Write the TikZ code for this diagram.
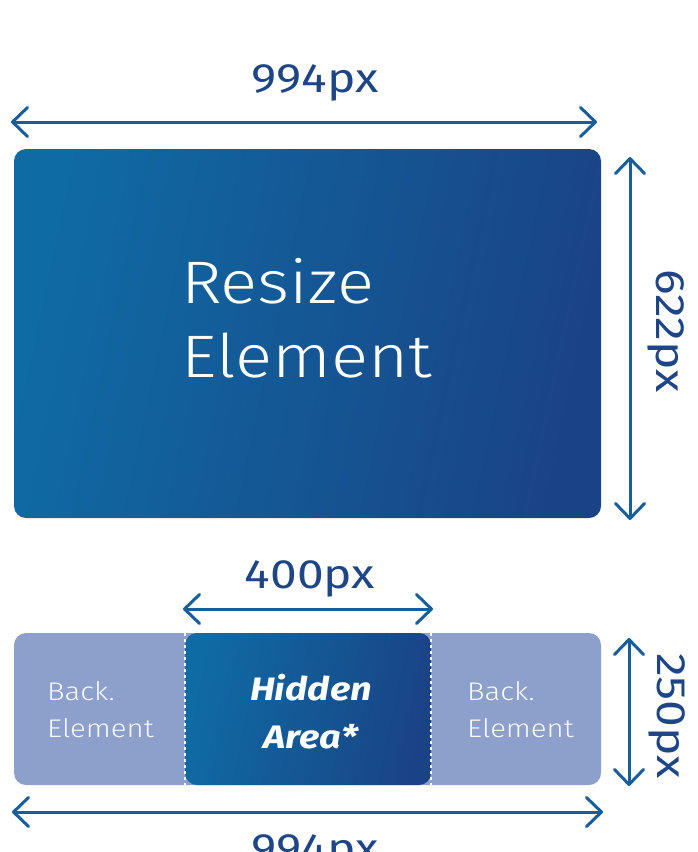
\documentclass[tikz,border=0pt]{standalone}
\usepackage{fontspec}
\setmainfont{Fira Sans}[FakeStretch=1.17]
\newfontfamily\lightfont{Fira Sans Light}[FakeStretch=1.15]
\usetikzlibrary{arrows.meta}
\definecolor{dimblue}{HTML}{175E9B}
\definecolor{txtblue}{HTML}{1E4585}
\definecolor{gradA}{HTML}{0F6BA4}
\definecolor{gradB}{HTML}{1A4385}
\definecolor{barcol}{HTML}{8DA0CB}
\begin{document}
\begin{tikzpicture}[x=1pt,y=-1pt,
  dimarrow/.style={draw=dimblue, line width=3pt, line cap=round,
    {Straight Barb[length=15pt,width=29pt,line width=3pt,round]}-{Straight Barb[length=15pt,width=29pt,line width=3pt,round]}},
  dimlabel/.style={text=txtblue, inner sep=0pt, anchor=base, font=\fontsize{41}{49}\selectfont},
  gradbox/.style={rectangle, rounded corners=12pt, inner sep=0pt, left color=gradA, right color=gradB, shading angle=78},
  backtxt/.style={text=white!94!barcol, inner sep=0pt, align=left, font=\lightfont\fontsize{25.5}{37}\selectfont},
  sep/.style={draw=white, line width=1.5pt, dash pattern=on 3pt off 3pt}
]
\useasboundingbox (0,0) rectangle (697,852);

% ---- top part ----
\node[dimlabel] (wtop) at (315,92) {994px};
\coordinate (wtopL) at (11,122);
\coordinate (wtopR) at (597,122);
\draw[dimarrow] (wtopL) -- (wtopR);

\node[gradbox, minimum width=587pt, minimum height=369pt] (resize) at (307.5,333.5) {};
\node[text=white, inner sep=0pt, align=left, anchor=west,
      font=\lightfont\fontsize{60}{74}\selectfont] (resizetxt) at (181,318) {Resize\\Element};

\coordinate (htopT) at (630,157);
\coordinate (htopB) at (630,520);
\draw[dimarrow] (htopT) -- (htopB);
\node[dimlabel, rotate=-90] (htop) at (656,331) {622px};

% ---- bottom part ----
\node[dimlabel] (wmid) at (310,588) {400px};

\node[rectangle, rounded corners=12pt, fill=barcol, minimum width=587pt, minimum height=152pt, inner sep=0pt] (bar) at (307.5,709) {};
\node[gradbox, minimum width=246pt, minimum height=152pt] (hidden) at (308,709) {};
\draw[sep] (hidden.north west) -- (hidden.south west);
\draw[sep] (hidden.north east) -- (hidden.south east);

\coordinate (wmidL) at (183,609);
\coordinate (wmidR) at (433,609);
\draw[dimarrow] (wmidL) -- (wmidR);

\node[backtxt, anchor=west] (backL) at (47,710) {Back.\\Element};
\node[backtxt, anchor=west] (backR) at (467,710) {Back.\\Element};
\node[text=white, inner sep=0pt, align=center,
      font=\bfseries\itshape\fontsize{32.5}{48}\selectfont] (hiddentxt) at (311,712) {Hidden\\Area*};

\coordinate (hbotT) at (629,638);
\coordinate (hbotB) at (629,786);
\draw[dimarrow] (hbotT) -- (hbotB);
\node[dimlabel, rotate=-90] (hbot) at (657,716) {250px};

\coordinate (wbotL) at (12,812);
\coordinate (wbotR) at (603,812);
\draw[dimarrow] (wbotL) -- (wbotR);
\node[dimlabel] (wbot) at (315,862) {994px};
\end{tikzpicture}
\end{document}
